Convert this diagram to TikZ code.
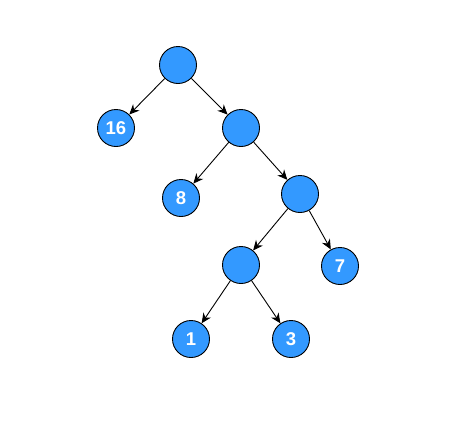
\documentclass[tikz,border=0pt]{standalone}
\usepackage{fontspec}
\setmainfont{Liberation Sans}
\usetikzlibrary{arrows.meta}
\tikzset{
  vert/.style={circle, draw=black, line width=0.9pt, fill=treeblue, minimum size=37pt, inner sep=0pt,
    text=white, font=\fontsize{18.5}{18.5}\selectfont\bfseries},
  edge/.style={line width=0.9pt, -{Stealth[length=10pt,width=9pt]}}
}
\definecolor{treeblue}{HTML}{3399FF}
\begin{document}
\begin{tikzpicture}[x=1pt, y=-1pt]
    \useasboundingbox (0,0) rectangle (471,421);
    % internal nodes
    \node[vert] (r0) at (178,65) {};
    \node[vert] (r1) at (241,128) {};
    \node[vert] (r2) at (300,194) {};
    \node[vert] (r3) at (241,265) {};
    % leaves
    \node[vert] (l16) at (116,128) {16};
    \node[vert] (l8) at (181,198) {8};
    \node[vert] (l7) at (340,266) {7};
    \node[vert] (l1) at (191,339) {1};
    \node[vert] (l3) at (291,339) {3};
    \draw[edge] (r0) -- (l16);
    \draw[edge] (r0) -- (r1);
    \draw[edge] (r1) -- (l8);
    \draw[edge] (r1) -- (r2);
    \draw[edge] (r2) -- (r3);
    \draw[edge] (r2) -- (l7);
    \draw[edge] (r3) -- (l1);
    \draw[edge] (r3) -- (l3);
\end{tikzpicture}
\end{document}
